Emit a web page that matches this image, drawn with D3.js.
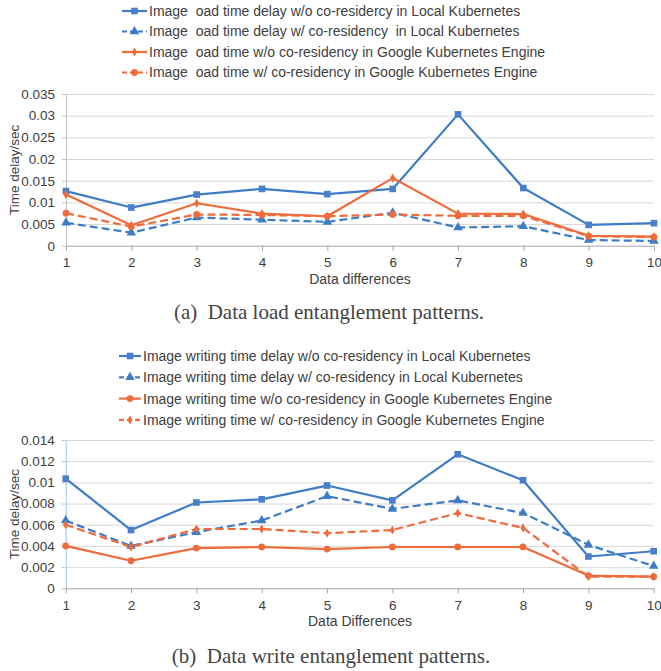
<!DOCTYPE html>
<html>
<head>
<meta charset="utf-8">
<script src="https://cdn.jsdelivr.net/npm/d3@7"></script>
<style>
  html, body { margin: 0; padding: 0; background: #fff; }
  svg { display: block; }
  .axis text { fill: #404040; font-family: "Liberation Sans", Arial, sans-serif; font-size: 13.5px; }
  .legend text { fill: #404040; font-family: "Liberation Sans", Arial, sans-serif; font-size: 14px; white-space: pre; }
  .title { fill: #404040; font-family: "Liberation Sans", Arial, sans-serif; }
  .caption { fill: #444; font-family: "Liberation Serif", "Times New Roman", serif; font-size: 21px; white-space: pre; }
  .grid line { stroke: #d9d9d9; stroke-width: 1; }
  .grid path { display: none; }
</style>
</head>
<body>
<div id="chart"></div>
<script>
// categories (x axis)
const dataDiffs = [1, 2, 3, 4, 5, 6, 7, 8, 9, 10];

// (a) data load
const loadTicks = [0, 0.005, 0.01, 0.015, 0.02, 0.025, 0.03, 0.035];
const loadLocalNoCo = [0.0126, 0.0088, 0.0118, 0.0131, 0.0119, 0.0131, 0.0303, 0.0133, 0.0048, 0.0052];
const loadLocalCo   = [0.0053, 0.0030, 0.0065, 0.0060, 0.0055, 0.0076, 0.0042, 0.0045, 0.0013, 0.0011];
const loadGkeNoCo   = [0.0118, 0.0047, 0.0098, 0.0074, 0.0068, 0.0156, 0.0074, 0.0073, 0.0023, 0.0021];
const loadGkeCo     = [0.0075, 0.0044, 0.0072, 0.0071, 0.0068, 0.0072, 0.0069, 0.0069, 0.0022, 0.0020];
const loadLabels = [
  'Image  oad time delay w/o co-residercy in Local Kubernetes',
  'Image  oad time delay w/ co-residency  in Local Kubernetes',
  'Image  oad time w/o co-residency in Google Kubernetes Engine',
  'Image  oad time w/ co-residency in Google Kubernetes Engine'
];

// (b) data write
const writeTicks = [0, 0.002, 0.004, 0.006, 0.008, 0.01, 0.012, 0.014];
const writeLocalNoCo = [0.01035, 0.0055, 0.0081, 0.0084, 0.0097, 0.0083, 0.01265, 0.0102, 0.0030, 0.0035];
const writeLocalCo   = [0.0064, 0.0040, 0.0053, 0.0064, 0.0087, 0.0075, 0.0083, 0.0071, 0.0041, 0.0021];
const writeGkeNoCo   = [0.0040, 0.0026, 0.0038, 0.0039, 0.0037, 0.0039, 0.0039, 0.0039, 0.0012, 0.0011];
const writeGkeCo     = [0.0060, 0.0039, 0.0056, 0.0056, 0.0052, 0.0055, 0.0071, 0.0057, 0.0011, 0.0011];
const writeLabels = [
  'Image writing time delay w/o co-residency in Local Kubernetes',
  'Image writing time delay w/ co-residency in Local Kubernetes',
  'Image writing time w/o co-residency in Google Kubernetes Engine',
  'Image writing time w/ co-residency in Google Kubernetes Engine'
];

const BLUE = '#3e7dc6';
const BLUE_MK = '#4a7fcc';
const ORANGE = '#ef6b3b';

const W = 661, H = 671;

const svg = d3.select('#chart').append('svg')
  .attr('width', W)
  .attr('height', H);
svg.append('rect').attr('width', W).attr('height', H).attr('fill', '#fff');

function symbolPath(type) {
  if (type === 'square') return d3.symbol(d3.symbolSquare, 44)();
  if (type === 'triangle') return d3.symbol(d3.symbolTriangle, 40)();
  if (type === 'circle') return d3.symbol(d3.symbolCircle, 36)();
  return d3.symbol(d3.symbolDiamond, 24)();
}

function drawPanel(cfg) {
  const g = svg.append('g');

  const x = d3.scalePoint().domain(dataDiffs).range([cfg.left, cfg.right]);
  const y = d3.scaleLinear().domain([0, cfg.ticks[cfg.ticks.length - 1]]).range([cfg.bottom, cfg.top]);

  // horizontal grid
  g.append('g').attr('class', 'grid')
    .attr('transform', `translate(${cfg.left},0)`)
    .call(d3.axisLeft(y).tickValues(cfg.ticks.slice(1)).tickSize(-(cfg.right - cfg.left)).tickFormat(''));

  // y axis
  const ya = g.append('g').attr('class', 'axis')
    .attr('transform', `translate(${cfg.left},0)`)
    .call(d3.axisLeft(y).tickValues(cfg.ticks).tickSize(4).tickSizeOuter(0).tickPadding(7).tickFormat(d3.format('~g')));
  ya.select('.domain').attr('stroke', cfg.yAxisColor);
  ya.selectAll('.tick line').attr('stroke', '#bfbfbf');

  // x axis
  const xa = g.append('g').attr('class', 'axis')
    .attr('transform', `translate(0,${cfg.bottom})`)
    .call(d3.axisBottom(x).tickSize(5).tickSizeOuter(0).tickPadding(7));
  xa.select('.domain').attr('stroke', '#a6a6a6');
  xa.selectAll('.tick line').attr('stroke', '#a6a6a6');

  // axis titles
  g.append('text').attr('class', 'title')
    .attr('transform', `translate(${cfg.yTitleX},${(cfg.top + cfg.bottom) / 2}) rotate(-90)`)
    .attr('text-anchor', 'middle')
    .attr('font-size', 13.5)
    .text('Time delay/sec');
  g.append('text').attr('class', 'title')
    .attr('x', 360).attr('y', cfg.bottom + 38)
    .attr('text-anchor', 'middle')
    .attr('font-size', 14)
    .text(cfg.xTitle);

  // series lines + markers
  const line = d3.line()
    .x((d, i) => x(dataDiffs[i]))
    .y(d => y(d));

  cfg.series.forEach(s => {
    g.append('path')
      .datum(s.values)
      .attr('fill', 'none')
      .attr('stroke', s.color)
      .attr('stroke-width', 2.2)
      .attr('stroke-linejoin', 'round')
      .attr('stroke-dasharray', s.dashed ? '8,4' : null)
      .attr('d', line);
  });
  cfg.series.forEach(s => {
    g.selectAll(null)
      .data(s.values)
      .enter()
      .append('path')
      .attr('transform', (d, i) => `translate(${x(dataDiffs[i])},${y(d)})`)
      .attr('d', symbolPath(s.marker))
      .attr('fill', s.markerColor);
  });

  // legend
  const lg = g.append('g').attr('class', 'legend');
  cfg.series.forEach((s, i) => {
    const ly = cfg.legendY + i * cfg.legendStep;
    lg.append('line')
      .attr('x1', cfg.legendX).attr('x2', cfg.legendX + cfg.legendLen)
      .attr('y1', ly).attr('y2', ly)
      .attr('stroke', s.color).attr('stroke-width', 2.2)
      .attr('stroke-dasharray', s.dashed ? '5,3' : null);
    lg.append('path')
      .attr('transform', `translate(${cfg.legendX + cfg.legendLen / 2},${ly})`)
      .attr('d', symbolPath(s.marker))
      .attr('fill', s.markerColor);
    lg.append('text')
      .attr('x', cfg.legendX + cfg.legendLen + 2)
      .attr('y', ly)
      .attr('dy', '0.35em')
      .text(s.label);
  });

  // caption
  g.append('text').attr('class', 'caption')
    .attr('x', cfg.captionX).attr('y', cfg.captionY)
    .attr('text-anchor', 'middle')
    .text(cfg.caption);
}

drawPanel({
  left: 66, right: 654, top: 94, bottom: 245.7,
  ticks: loadTicks,
  yAxisColor: '#bfbfbf',
  yTitleX: 19,
  xTitle: 'Data differences',
  legendX: 122, legendLen: 25, legendY: 11, legendStep: 20.5,
  caption: '(a)  Data load entanglement patterns.',
  captionX: 329, captionY: 319,
  series: [
    { values: loadLocalNoCo, color: BLUE, markerColor: BLUE_MK, marker: 'square', dashed: false, label: loadLabels[0] },
    { values: loadLocalCo, color: BLUE, markerColor: BLUE, marker: 'triangle', dashed: true, label: loadLabels[1] },
    { values: loadGkeNoCo, color: ORANGE, markerColor: ORANGE, marker: 'diamond', dashed: false, label: loadLabels[2] },
    { values: loadGkeCo, color: ORANGE, markerColor: ORANGE, marker: 'circle', dashed: true, label: loadLabels[3] }
  ]
});

drawPanel({
  left: 65.7, right: 653.7, top: 440, bottom: 588.3,
  ticks: writeTicks,
  yAxisColor: '#9dc3e6',
  yTitleX: 19,
  xTitle: 'Data Differences',
  legendX: 119, legendLen: 22, legendY: 356, legendStep: 21.3,
  caption: '(b)  Data write entanglement patterns.',
  captionX: 331, captionY: 663,
  series: [
    { values: writeLocalNoCo, color: BLUE, markerColor: BLUE_MK, marker: 'square', dashed: false, label: writeLabels[0] },
    { values: writeLocalCo, color: BLUE, markerColor: BLUE, marker: 'triangle', dashed: true, label: writeLabels[1] },
    { values: writeGkeNoCo, color: ORANGE, markerColor: ORANGE, marker: 'circle', dashed: false, label: writeLabels[2] },
    { values: writeGkeCo, color: ORANGE, markerColor: ORANGE, marker: 'diamond', dashed: true, label: writeLabels[3] }
  ]
});
</script>
</body>
</html>
